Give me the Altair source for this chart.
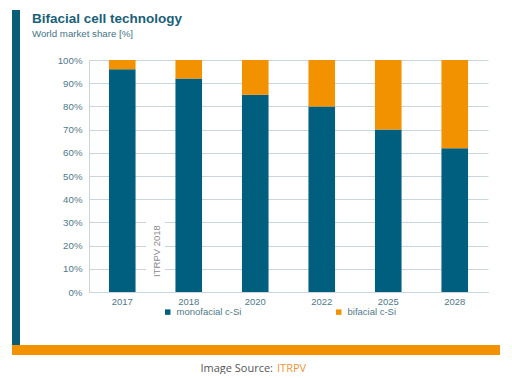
import altair as alt
import pandas as pd

years = ["2017", "2018", "2020", "2022", "2025", "2028"]
mono = [96, 92, 85, 80, 70, 62]
bifacial = [4, 8, 15, 20, 30, 38]
series = ["monofacial c-Si", "bifacial c-Si"]
colors = ["#005f7f", "#f39200"]
yticks = [0, 10, 20, 30, 40, 50, 60, 70, 80, 90, 100]

title_text = "Bifacial cell technology"
subtitle_text = "World market share [%]"
note_text = "ITRPV 2018"
source_label = "Image Source:"
source_name = "ITRPV"

rows = []
for i, yr in enumerate(years):
    rows.append({"year": yr, "series": series[0], "share": mono[i], "k": 0})
    rows.append({"year": yr, "series": series[1], "share": bifacial[i], "k": 1})
df = pd.DataFrame(rows)
one = pd.DataFrame({"a": [0]})

W, H = 399, 232
FONT = "Liberation Sans"
LAB = "#4f7888"
GRID = "#c9d5da"

bars = alt.Chart(df).mark_bar().encode(
    x=alt.X("year:N", sort=years, title=None,
            scale=alt.Scale(paddingInner=0.6, paddingOuter=0.3),
            axis=alt.Axis(labelAngle=0, ticks=False, domainColor=GRID, labelColor=LAB,
                          labelFontSize=9.5, labelPadding=4, labelFont=FONT)),
    y=alt.Y("share:Q", stack="zero", title=None,
            scale=alt.Scale(domain=[0, 100], nice=False),
            axis=alt.Axis(values=yticks, labelExpr="datum.value + '%'", ticks=False,
                          domain=True, domainColor=GRID, gridColor=GRID, labelColor=LAB,
                          labelFontSize=9.7, labelPadding=7, labelFont=FONT)),
    color=alt.Color("series:N", scale=alt.Scale(domain=series, range=colors),
                    legend=alt.Legend(orient="none", legendX=74, legendY=247, direction="horizontal",
                                      title=None, symbolType="square", symbolSize=30,
                                      symbolStrokeWidth=0, columnPadding=92,
                                      labelFontSize=9.5, labelColor=LAB, labelFont=FONT)),
    order=alt.Order("k:Q", sort="ascending"),
)

note_bg = alt.Chart(one).mark_rect(color="white").encode(
    x=alt.value(57), x2=alt.value(76), y=alt.value(159), y2=alt.value(221))
note = alt.Chart(one).mark_text(angle=270, color="#8a8a8a", fontSize=9.5, font=FONT,
                                align="center", baseline="middle").encode(
    x=alt.value(68), y=alt.value(191), text=alt.value(note_text))

left_bar = alt.Chart(one).mark_rect(color="#0a5d78").encode(
    x=alt.value(-77), x2=alt.value(-69), y=alt.value(-50), y2=alt.value(285))
bottom_bar = alt.Chart(one).mark_rect(color="#f39200").encode(
    x=alt.value(-77), x2=alt.value(411), y=alt.value(285), y2=alt.value(295))

title = alt.Chart(one).mark_text(align="left", baseline="alphabetic", fontSize=13.5,
                                 fontWeight="bold", color="#1a5f78", font=FONT).encode(
    x=alt.value(-57), y=alt.value(-37), text=alt.value(title_text))
subtitle = alt.Chart(one).mark_text(align="left", baseline="alphabetic", fontSize=9.7,
                                    color="#3f7486", font=FONT).encode(
    x=alt.value(-57), y=alt.value(-23), text=alt.value(subtitle_text))

src1 = alt.Chart(one).mark_text(align="right", baseline="alphabetic", fontSize=11,
                                color="#555555", font="Open Sans").encode(
    x=alt.value(184), y=alt.value(312), text=alt.value(source_label))
src2 = alt.Chart(one).mark_text(align="left", baseline="alphabetic", fontSize=11,
                                color="#e8953a", font="Open Sans").encode(
    x=alt.value(188), y=alt.value(312), text=alt.value(source_name))

chart = alt.layer(bars, note_bg, note, left_bar, bottom_bar, title, subtitle, src1, src2).properties(
    width=W, height=H,
    autosize=alt.AutoSizeParams(type="none"),
    padding={"left": 81, "top": 52, "right": 16, "bottom": 82},
    background="white",
).configure_view(stroke=None)

chart.save("out.html", embed_options={"renderer": "svg", "actions": False})
